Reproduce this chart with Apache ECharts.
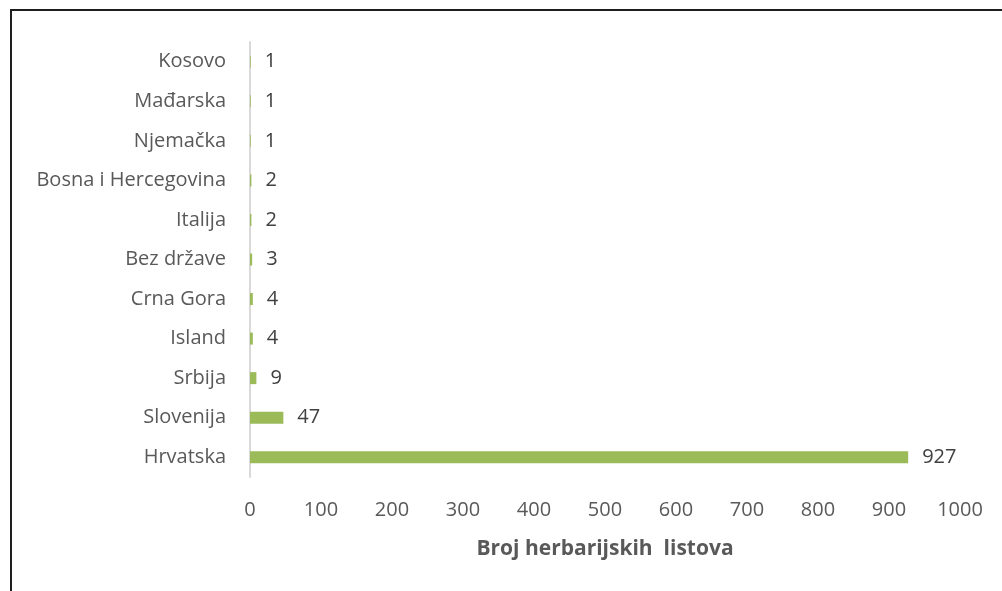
<!DOCTYPE html>
<html>
<head>
<meta charset="utf-8">
<script src="https://cdn.jsdelivr.net/npm/echarts@6/dist/echarts.min.js"></script>
<style>
html,body{margin:0;padding:0;background:#fff;}
#wrap{position:relative;width:1002px;height:591px;overflow:hidden;}
#frame{position:absolute;left:10px;top:9px;width:1100px;height:700px;border-top:2px solid #1e1e1e;border-left:2px solid #1e1e1e;box-shadow:1px 1px 1px #bbb;}
#chart{position:absolute;left:0;top:0;width:1002px;height:591px;}
</style>
</head>
<body>
<div id="wrap">
<div id="frame"></div>
<div id="chart"></div>
</div>
<script>
const categories = ["Hrvatska","Slovenija","Srbija","Island","Crna Gora","Bez države","Italija","Bosna i Hercegovina","Njemačka","Mađarska","Kosovo"];
const values = [927,47,9,4,4,3,2,2,1,1,1];
const axisTitle = "Broj herbarijskih  listova";

const chart = echarts.init(document.getElementById('chart'), null, {renderer:'canvas'});
const font = "'Open Sans', sans-serif";
chart.setOption({
  animation:false,
  grid:{left:250,right:42,top:42,bottom:114,containLabel:false},
  xAxis:{
    type:'value',min:0,max:1000,interval:100,
    axisLine:{show:false},axisTick:{show:false},splitLine:{show:false},
    axisLabel:{color:'#595959',fontSize:20,fontFamily:font,margin:23,formatter:v=>String(v)},
    name:axisTitle,nameLocation:'middle',nameGap:62,
    nameTextStyle:{color:'#595959',fontSize:21,fontWeight:'bold',fontFamily:font}
  },
  yAxis:{
    type:'category',data:categories,
    axisLine:{show:true,lineStyle:{color:'#D9D9D9',width:2}},
    axisTick:{show:false},
    axisLabel:{color:'#595959',fontSize:20,fontFamily:font,margin:24,padding:[3,0,0,0]}
  },
  series:[{
    type:'bar',data:values,barWidth:12,
    itemStyle:{color:'#9BBB59'},
    label:{show:true,position:'right',distance:14,color:'#404040',fontSize:20,fontFamily:font,padding:[3,0,0,0]}
  }]
});
</script>
</body>
</html>
